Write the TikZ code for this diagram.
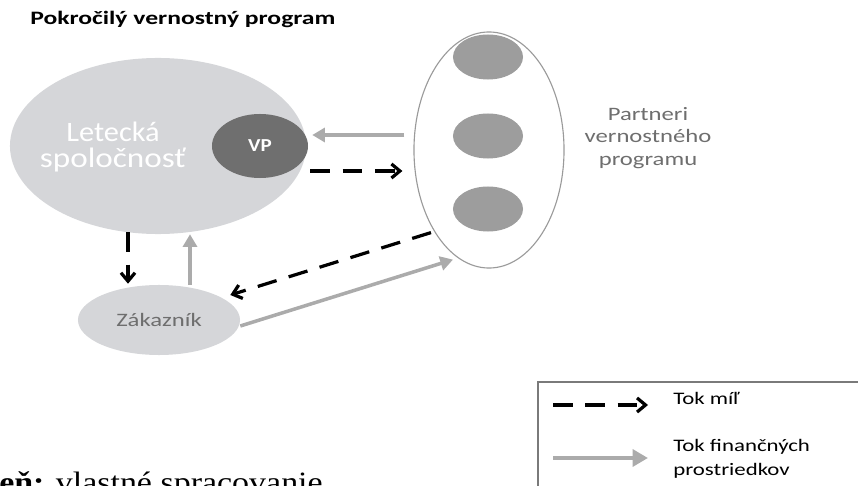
\documentclass[tikz,border=0pt]{standalone}
\usepackage{fontspec}
\setmainfont{Carlito}
\newfontfamily\sourcefont{Liberation Serif}
\usetikzlibrary{arrows.meta,positioning,shapes.geometric}
\definecolor{Shell}{HTML}{D5D6D9}
\definecolor{Core}{HTML}{6F6F6F}
\definecolor{Dot}{HTML}{9D9D9D}
\definecolor{Flow}{HTML}{ABABAB}
\definecolor{Rim}{HTML}{9A9A9A}
\definecolor{Ink}{HTML}{6E6E6E}
\definecolor{Frame}{HTML}{7A7A7A}
\newcommand\wide[2][1.3]{\scalebox{#1}[1]{#2}}

\begin{document}
\begin{tikzpicture}[x=0.025cm,y=-0.025cm,>=Latex,
blob/.style={ellipse,inner sep=0pt,fill=Shell},
dot/.style={ellipse,inner sep=0pt,fill=Dot,minimum width=1.75cm,minimum height=1.125cm},
miles/.style={->,line width=2.3pt,dash pattern=on 14pt off 9pt,>={Straight Barb[length=6pt,width=10pt]}},
money/.style={->,line width=2.5pt,Flow,>={Triangle[length=9pt,width=10pt]}},
label/.style={text=Ink,font=\fontsize{13.5}{16}\selectfont,align=center}]
\useasboundingbox (0,0) rectangle (858,486);
\node[anchor=base west,inner sep=0pt,font=\bfseries\fontsize{13.5}{15}\selectfont] (title) at (30,25) {\wide[1.35]{Pokročilý vernostný program}};
% airline with its programme
\node[blob,minimum width=7.4cm,minimum height=4.4cm] (air) at (158,146) {};
\node[anchor=base,text=white,align=center,inner sep=0pt,font=\fontsize{20}{18.5}\selectfont] (airtxt) at (113,168) {\wide[1.08]{Letecká}\\\wide[1.18]{spoločnosť}};
\node[ellipse,inner sep=0pt,fill=Core,minimum width=2.4cm,minimum height=1.6cm,text=white,font=\bfseries\fontsize{13}{15}\selectfont] (vp) at (260,146) {\wide[1.15]{VP}};
% partners
\node[ellipse,draw=Rim,line width=0.8pt,minimum width=3.75cm,minimum height=5.9cm] (partn) at (489,150) {};
\foreach \n/\y in {pa/57,pb/136,pc/209}{\node[dot] (\n) at (488,\y) {};}
\node[label] (partxt) at (648,138) {\wide{Partneri}\\\wide{vernostného}\\\wide{programu}};
% customer
\node[blob,minimum width=4.05cm,minimum height=1.75cm,label] (zak) at (159,320) {\wide{Zákazník}};
% flows
\draw[money] ([shift={(-9,-15)}]partn.west) -- ([shift={(4,-11)}]vp.east);
\draw[miles] ([shift={(2,25)}]vp.east) -- ([shift={(-11,21)}]partn.west);
\draw[miles] ([shift={(-30,-2)}]air.south) -- ([shift={(-31,-1)}]zak.north);
\draw[money] ([shift={(31,0)}]zak.north) -- ([shift={(32,0)}]air.south);
\draw[miles] ([shift={(-58,-36)}]partn.south) -- ([shift={(-10,-25)}]zak.east);
\draw[money] ([shift={(0,6)}]zak.east) -- ([shift={(-36,-9)}]partn.south);
% legend
\draw[Frame,line width=1.3pt] (538,382) rectangle (880,520);
\coordinate (ma) at (553,405);
\coordinate (mb) at (648,405);
\coordinate (fa) at (553,458);
\coordinate (fb) at (648,458);
\draw[miles] (ma) -- (mb);
\draw[money,line width=3pt,>={Triangle[length=11pt,width=12pt]}] (fa) -- (fb);
\node[anchor=base west,inner sep=0pt,font=\fontsize{12.5}{17}\selectfont] (legm) at (673,404) {\wide{Tok míľ}};
\node[anchor=base west,inner sep=0pt,font=\fontsize{12.5}{17}\selectfont,align=left] (legf) at (673,475) {\wide{Tok finančných}\\\wide{prostriedkov}};
\node[anchor=base west,inner sep=0pt,font=\sourcefont\fontsize{21}{24}\selectfont] (src) at (-1,492) {\wide[1.15]{\textbf{eň:} vlastné spracovanie}};
\end{tikzpicture}
\end{document}
